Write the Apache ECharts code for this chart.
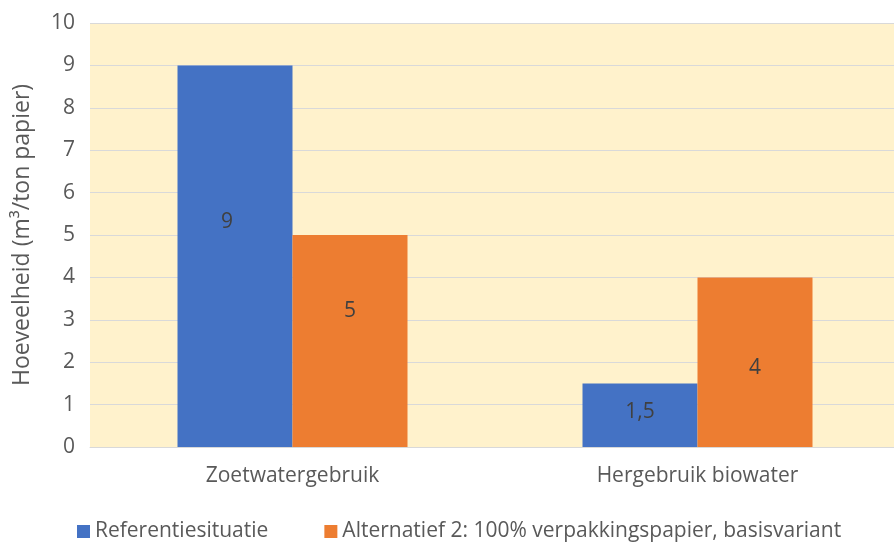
<!DOCTYPE html>
<html><head><meta charset="utf-8">
<script src="https://cdn.jsdelivr.net/npm/echarts@6/dist/echarts.min.js"></script>
<style>html,body{margin:0;padding:0;background:#fff;overflow:hidden}#c{width:900px;height:542px}</style>
</head><body><div id="c"></div>
<script>
const categories = ['Zoetwatergebruik', 'Hergebruik biowater'];
const seriesNames = ['Referentiesituatie', 'Alternatief 2: 100% verpakkingspapier, basisvariant'];
const referentie = [9, 1.5];
const alternatief = [5, 4];
const yTicks = [0, 10, 1];
const yName = 'Hoeveelheid (m³/ton papier)';

const FONT = 'Open Sans';
const FS = 21;
const labelOffsets = [[[-8, -34], [0, -3]], [[0, -30], [0, 6]]];
function mk(vals, si) {
  return vals.map((v, i) => ({ value: v, label: { offset: labelOffsets[si][i] } }));
}
const chart = echarts.init(document.getElementById('c'));
chart.setOption({
  animation: false,
  textStyle: { fontFamily: FONT },
  grid: { left: 90, top: 23, right: 0, bottom: 95, show: true, backgroundColor: '#FFF2CC', borderWidth: 0, containLabel: false },
  legend: {
    top: 516, left: 72, itemWidth: 13, itemHeight: 13, itemGap: 56, icon: 'rect',
    textStyle: { fontSize: FS, color: '#595959', fontFamily: FONT },
    data: seriesNames
  },
  xAxis: {
    type: 'category', data: categories,
    axisLine: { lineStyle: { color: '#d9d9d9', width: 1 } },
    axisTick: { show: false },
    axisLabel: { fontSize: FS, color: '#595959', margin: 19 }
  },
  yAxis: {
    type: 'value', min: yTicks[0], max: yTicks[1], interval: yTicks[2],
    name: yName, nameLocation: 'middle', nameGap: 56, nameRotate: 90,
    nameTextStyle: { fontSize: 23, color: '#595959' },
    axisLabel: { fontSize: FS, color: '#595959', margin: 15 },
    axisLine: { show: false }, axisTick: { show: false },
    splitLine: { lineStyle: { color: '#d9d9d9', width: 1 } }
  },
  series: [
    { name: seriesNames[0], type: 'bar', data: mk(referentie, 0), barWidth: 115, barGap: '0%',
      itemStyle: { color: '#4472C4' },
      label: { show: true, position: 'inside', fontSize: FS, color: '#404040', formatter: p => String(p.value).replace('.', ',') } },
    { name: seriesNames[1], type: 'bar', data: mk(alternatief, 1), barWidth: 115, barGap: '0%',
      itemStyle: { color: '#ED7D31' },
      label: { show: true, position: 'inside', fontSize: FS, color: '#404040', formatter: p => String(p.value).replace('.', ',') } }
  ]
});
</script></body></html>
